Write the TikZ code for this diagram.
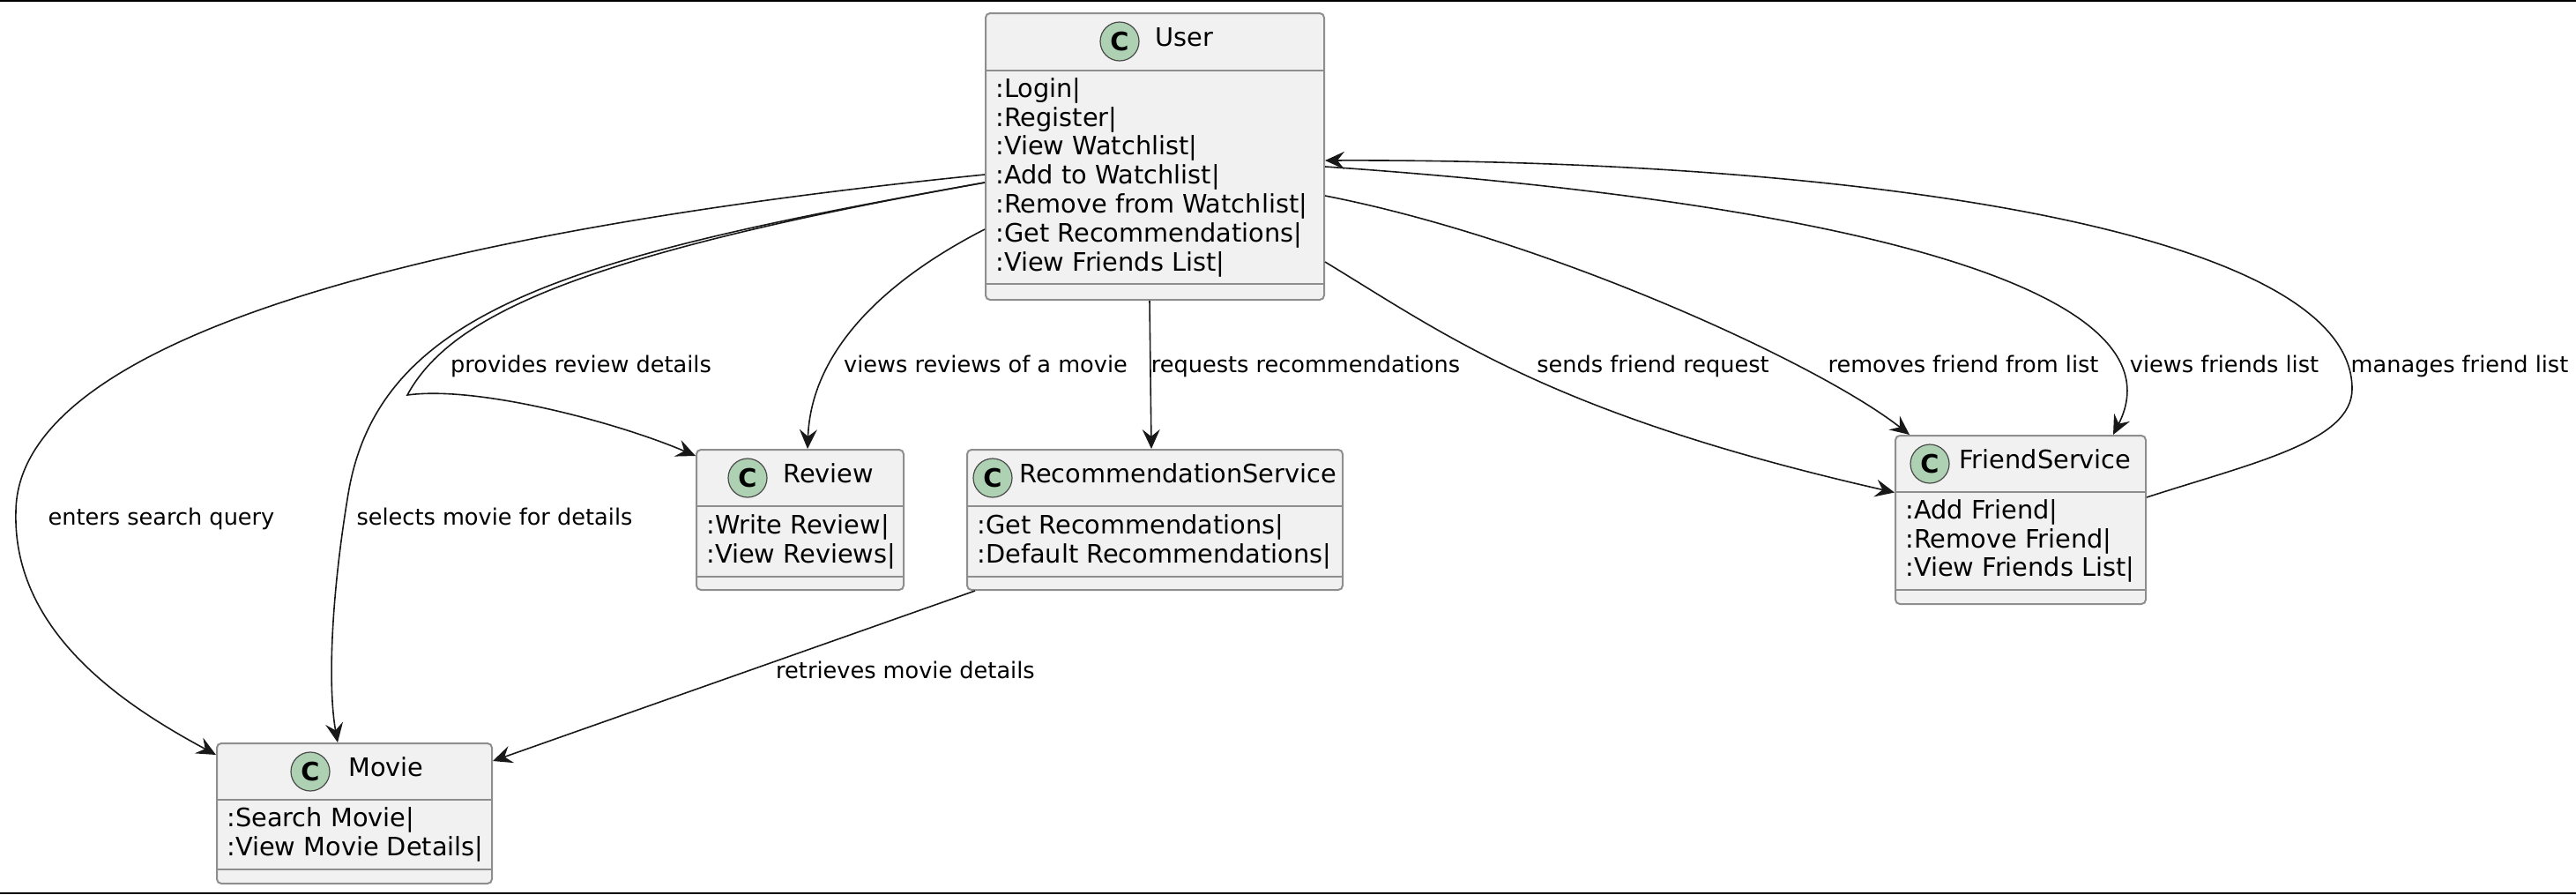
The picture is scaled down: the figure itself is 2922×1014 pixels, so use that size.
\documentclass[tikz,border=0pt]{standalone}
\usepackage{fontspec}
\setmainfont{DejaVu Sans}
\usetikzlibrary{arrows.meta, positioning}

\definecolor{classbg}{HTML}{F1F1F1}
\definecolor{classline}{HTML}{8E8E8E}
\definecolor{spotbg}{HTML}{ADD1B2}
\definecolor{spotline}{HTML}{4A4A4A}
\definecolor{edgeline}{HTML}{181818}

\begin{document}
\begin{tikzpicture}[
    % GLOBAL CFG
    x=0.5pt, y=-0.5pt,
    font=\fontsize{14.4}{16.4}\selectfont,
    >={Stealth[length=11pt, width=10pt, inset=4pt]},
    % Styles
    classbox/.style={% For the class boxes
        rectangle,
        rounded corners=2.5pt,
        draw=classline,
        fill=classbg,
        line width=1pt,
        inner sep=0pt,
        },
    divider/.style={% For the lines inside a class box
        draw=classline,
        line width=1pt,
        },
    spot/.style={% For the C circles
        circle,
        draw=spotline,
        fill=spotbg,
        line width=0.6pt,
        minimum size=22pt,
        inner sep=0pt,
        font=\fontsize{14.4}{16}\selectfont\bfseries,
        },
    cname/.style={% For the class names
        anchor=mid west,
        inner sep=0pt,
        },
    members/.style={% For the member lists
        anchor=west,
        align=left,
        inner sep=0pt,
        },
    elabel/.style={% For the texts next to the arrows
        font=\fontsize{12.8}{15}\selectfont,
        anchor=mid,
        inner sep=0pt,
        },
    ArrowA/.style={% Arrows between the classes
        ->,
        draw=edgeline,
        line width=0.8pt,
        },
    frameline/.style={% top and bottom rules
        line width=1pt,
        }
    ]

    \useasboundingbox (0,0) rectangle (2922,1014);
    \draw[frameline] (0,1) -- (2922,1);
    \draw[frameline] (0,1013) -- (2922,1013);

    % Draw the classes
    % User
    \node[classbox, minimum width=192pt, minimum height=162.5pt] (user) at (1310,177.5) {};
    \draw[divider] (1118,80) -- (1502,80);
    \draw[divider] (1118,322) -- (1502,322);
    \node[spot] (user-spot) at (1270,47) {C};
    \node[cname] (user-name) at (1310,47) {User};
    \node[members] (user-ops) at (1129,201) {:Login|\\:Register|\\:View Watchlist|\\:Add to Watchlist|\\:Remove from Watchlist|\\:Get Recommendations|\\:View Friends List|};

    % Review
    \node[classbox, minimum width=117.5pt, minimum height=79.5pt] (review) at (907.5,589.5) {};
    \draw[divider] (790,574) -- (1025,574);
    \draw[divider] (790,654) -- (1025,654);
    \node[spot] (review-spot) at (848,542) {C};
    \node[cname] (review-name) at (888,542) {Review};
    \node[members] (review-ops) at (801,614) {:Write Review|\\:View Reviews|};

    % RecommendationService
    \node[classbox, minimum width=213pt, minimum height=79.5pt] (rec) at (1310,589.5) {};
    \draw[divider] (1097,574) -- (1523,574);
    \draw[divider] (1097,654) -- (1523,654);
    \node[spot] (rec-spot) at (1126,542) {C};
    \node[cname] (rec-name) at (1156,542) {RecommendationService};
    \node[members] (rec-ops) at (1108,614) {:Get Recommendations|\\:Default Recommendations|};

    % FriendService
    \node[classbox, minimum width=142pt, minimum height=95.5pt] (friend) at (2292,589.5) {};
    \draw[divider] (2150,558) -- (2434,558);
    \draw[divider] (2150,669) -- (2434,669);
    \node[spot] (friend-spot) at (2189,526) {C};
    \node[cname] (friend-name) at (2222,526) {FriendService};
    \node[members] (friend-ops) at (2161,613.5) {:Add Friend|\\:Remove Friend|\\:View Friends List|};

    % Movie
    \node[classbox, minimum width=156pt, minimum height=79.5pt] (movie) at (402,922.5) {};
    \draw[divider] (246,907) -- (558,907);
    \draw[divider] (246,986) -- (558,986);
    \node[spot] (movie-spot) at (352,875) {C};
    \node[cname] (movie-name) at (395,875) {Movie};
    \node[members] (movie-ops) at (257,946.5) {:Search Movie|\\:View Movie Details|};

    % Labels of the arrows
    \node[elabel] (lbl-search) at (183,590) {enters search query};
    \node[elabel] (lbl-select) at (561,590) {selects movie for details};
    \node[elabel] (lbl-provide) at (659,417) {provides review details};
    \node[elabel] (lbl-reviews) at (1118,417) {views reviews of a movie};
    \node[elabel] (lbl-request) at (1481,417) {requests recommendations};
    \node[elabel] (lbl-send) at (1875,417) {sends friend request};
    \node[elabel] (lbl-remove) at (2227,417) {removes friend from list};
    \node[elabel] (lbl-list) at (2523,417) {views friends list};
    \node[elabel] (lbl-manage) at (2790,417) {manages friend list};
    \node[elabel] (lbl-fetch) at (1027,764) {retrieves movie details};

    % Drawing arrows
    % left side of User
    \draw[ArrowA] ([yshift=-10.25pt]user.west) .. controls (500,260) and (20,380) .. (18,580)
        .. controls (14,720) and (147,803) .. ([yshift=-7pt]movie.north west);
    \draw[ArrowA] ([yshift=-14.75pt]user.west) .. controls (650,290) and (430,350) .. (395,560)
        .. controls (375,680) and (372,780) .. ([xshift=-9.5pt]movie.north);
    \draw[ArrowA] ([yshift=-14.75pt]user.west) .. controls (650,290) and (510,360) .. (462,448)
        .. controls (542,437) and (700,479) .. ([yshift=-4pt]review.north west);
    \draw[ArrowA] ([yshift=-41.25pt]user.west) .. controls (1000,320) and (920,400) .. ([xshift=4.25pt]review.north);

    % bottom of User
    \draw[ArrowA] ([xshift=-3pt]user.south) -- ([xshift=-2pt]rec.north);
    \draw[ArrowA] ([xshift=5pt]rec.south west) -- ([yshift=29.75pt]movie.east);

    % right side of User
    \draw[ArrowA] ([yshift=-59.75pt]user.east) .. controls (1640,380) and (1760,470) .. ([yshift=15.5pt]friend.west);
    \draw[ArrowA] ([yshift=-22.25pt]user.east) .. controls (1750,270) and (2060,410) .. ([xshift=-63pt]friend.north);
    \draw[ArrowA] ([yshift=-5.75pt]user.east) .. controls (2100,230) and (2480,330) .. ([xshift=52.5pt]friend.north);
    \draw[ArrowA] ([yshift=12.75pt]friend.east) .. controls (2555,525) and (2668,501) .. (2668,441)
        .. controls (2668,260) and (2100,180) .. ([yshift=-2.25pt]user.east);

\end{tikzpicture}
\end{document}
